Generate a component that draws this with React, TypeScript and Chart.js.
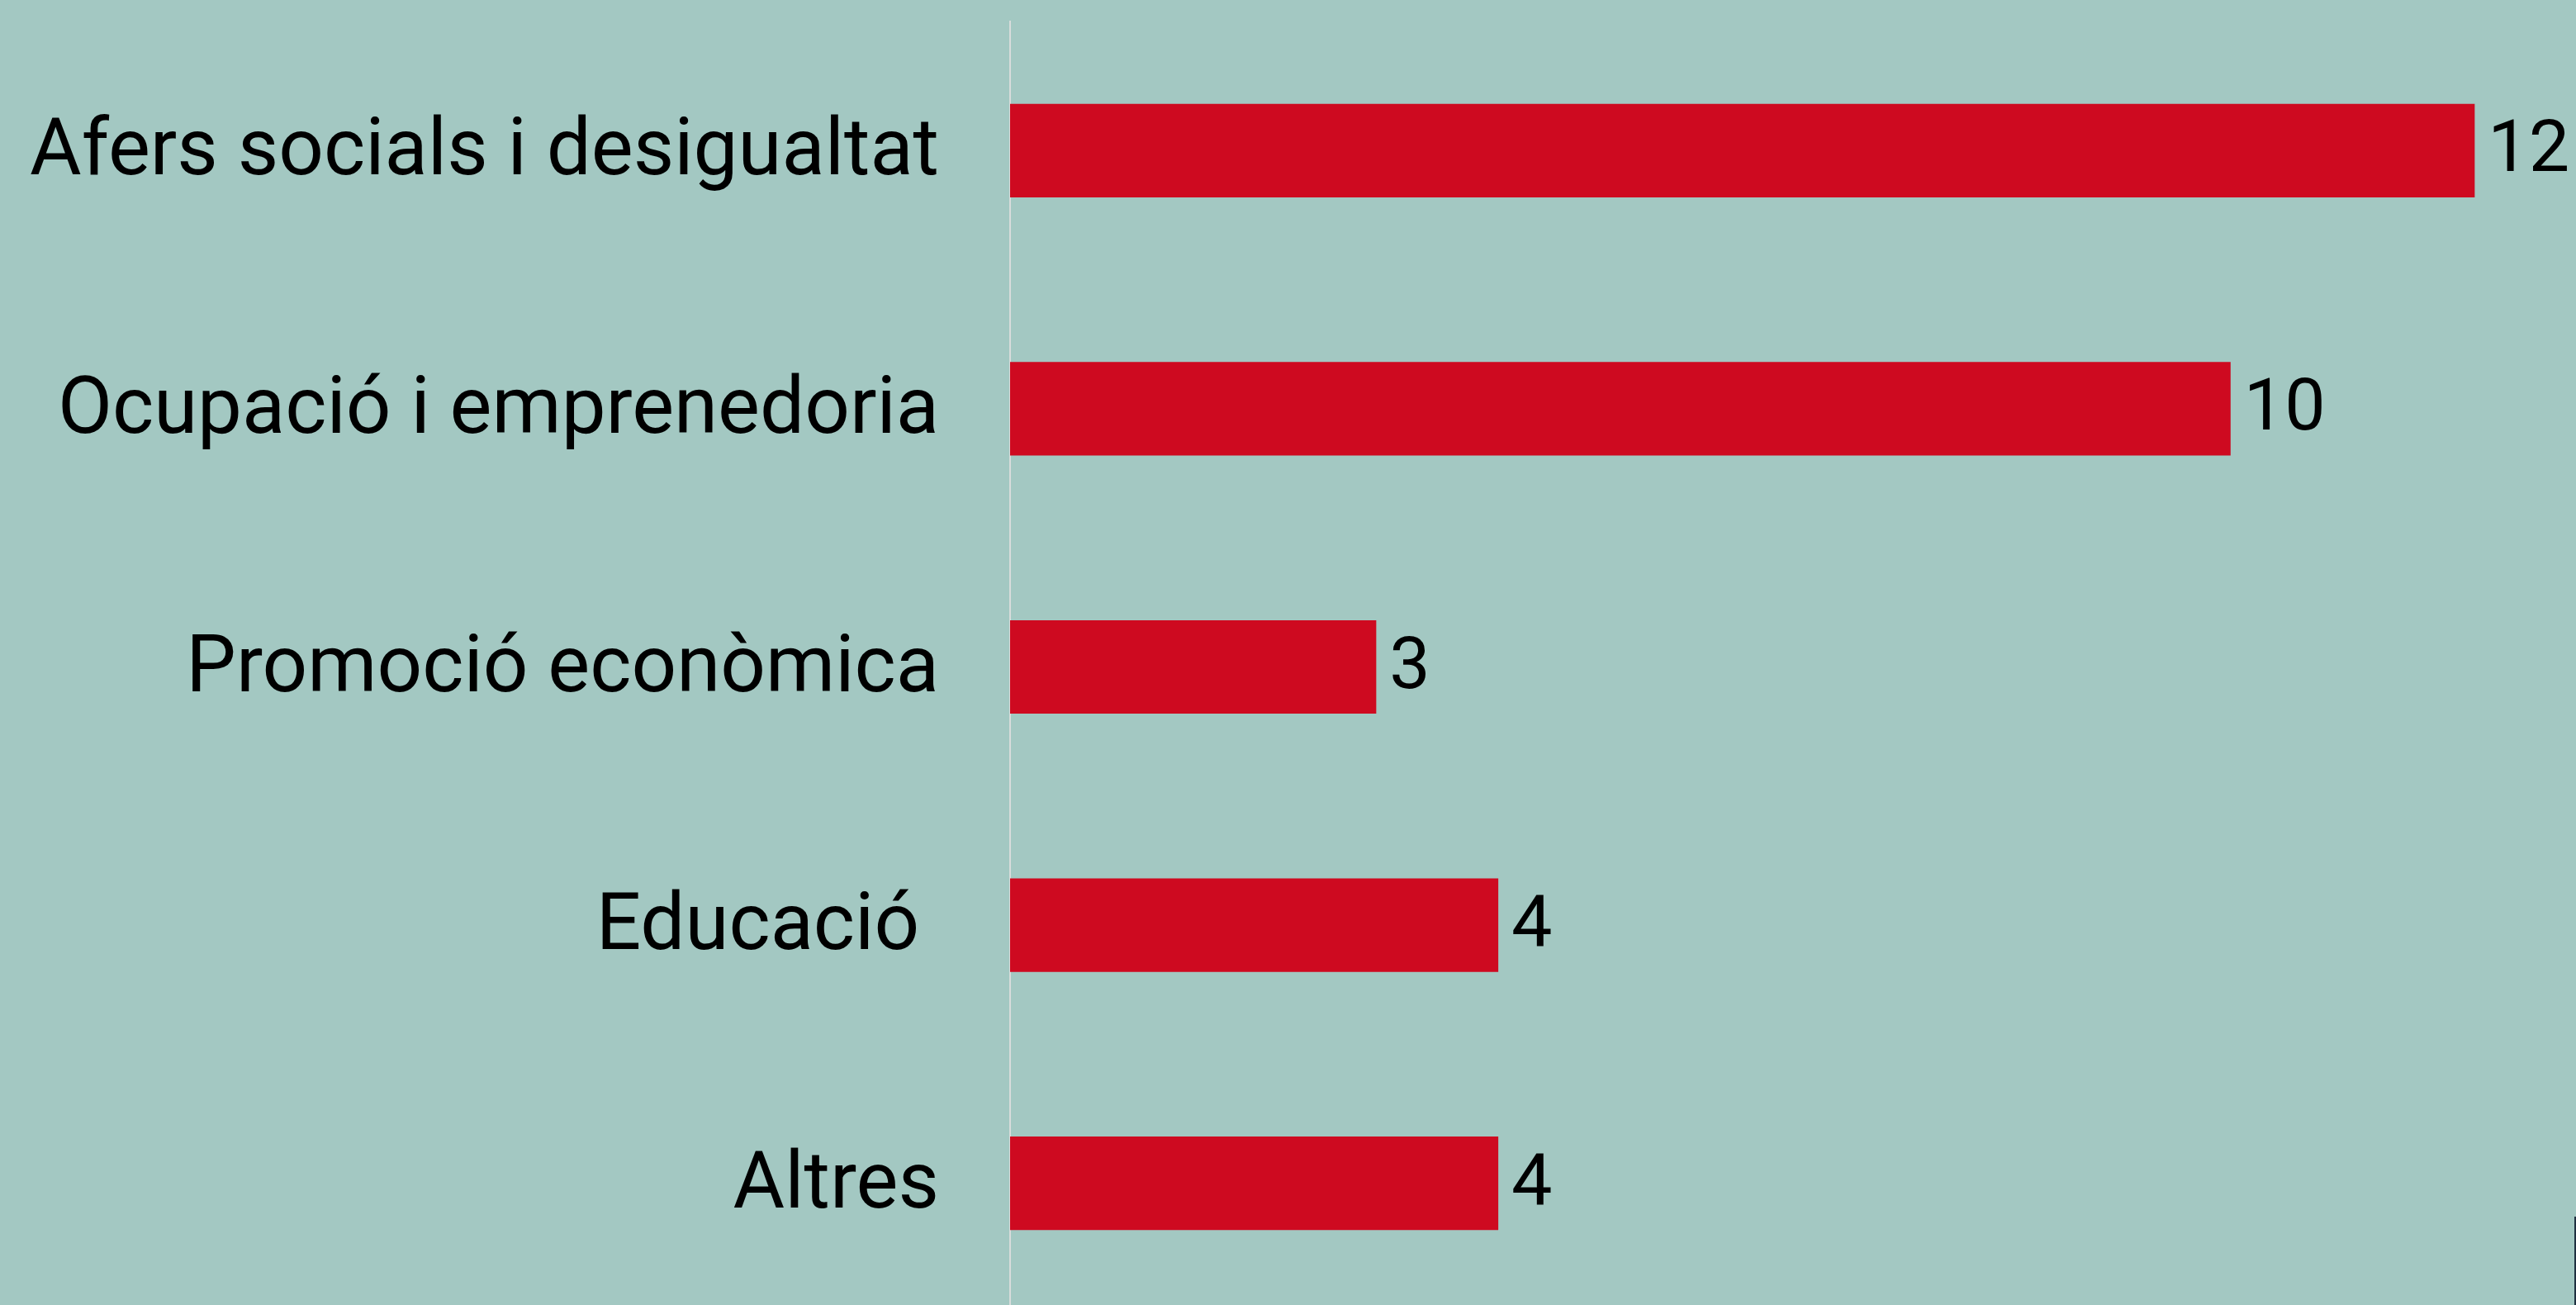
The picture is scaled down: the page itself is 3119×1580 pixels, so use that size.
import React, { useEffect, useRef } from "react";
import { Chart, registerables } from "chart.js";

Chart.register(...registerables);

const categories = [
  "Afers socials i desigualtat",
  "Ocupació i emprenedoria",
  "Promoció econòmica",
  "Educació ",
  "Altres",
];
const values = [12, 10, 3, 4, 4];
const xMax = 12.83;

const BG = "#a3c8c2";
const BAR = "#ce0a20";

const valueLabels = {
  id: "valueLabels",
  afterDatasetsDraw(chart: any) {
    const ctx = chart.ctx;
    const meta = chart.getDatasetMeta(0);
    ctx.save();
    ctx.font = "88px Roboto";
    ctx.fillStyle = "#000";
    ctx.textAlign = "left";
    ctx.textBaseline = "middle";
    meta.data.forEach((bar: any, i: number) => {
      ctx.fillText(String(values[i]), bar.x + 16, bar.y + 3);
    });
    ctx.restore();
  },
};

export default function App() {
  const ref = useRef<HTMLCanvasElement>(null);
  useEffect(() => {
    document.body.style.margin = "0";
    document.body.style.background = BG;
    const chart = new Chart(ref.current!, {
      type: "bar",
      data: {
        labels: categories,
        datasets: [
          {
            data: values,
            backgroundColor: BAR,
            borderWidth: 0,
            barPercentage: 0.362,
            categoryPercentage: 1,
          },
        ],
      },
      options: {
        indexAxis: "y",
        animation: false,
        responsive: false,
        maintainAspectRatio: false,
        layout: { padding: { top: 26, left: 0, right: 0, bottom: 0 } },
        plugins: {
          legend: { display: false },
          tooltip: { enabled: false },
        },
        scales: {
          x: {
            display: false,
            min: 0,
            max: xMax,
          },
          y: {
            afterFit(scale: any) {
              scale.width = 1223;
              scale.paddingTop = 0;
              scale.paddingBottom = 0;
            },
            grid: { display: false, drawTicks: false },
            border: { display: true, color: "#d8dcdb", width: 2 },
            ticks: {
              color: "#000",
              padding: 86,
              labelOffset: 5,
              font: { family: "Roboto", size: 96 },
            },
          },
        },
      },
      plugins: [valueLabels],
    });
    return () => chart.destroy();
  }, []);
  return (
    <div
      style={{
        position: "relative",
        width: 3119,
        height: 1580,
        overflow: "hidden",
        background: BG,
      }}
    >
      <canvas ref={ref} width={3119} height={1589} style={{ display: "block" }} />
      <div
        style={{
          position: "absolute",
          left: 3117,
          top: 1473,
          width: 2,
          height: 107,
          background: "#1f3040",
        }}
      />
    </div>
  );
}
